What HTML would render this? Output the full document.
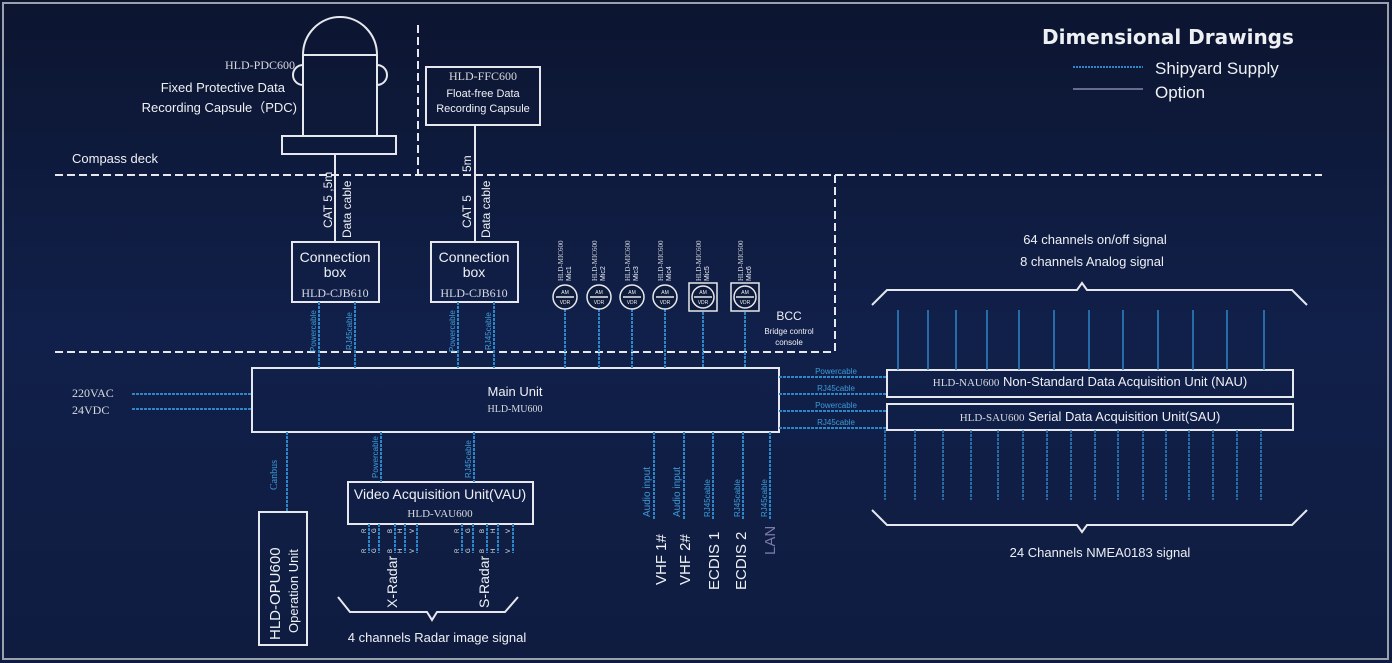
<!DOCTYPE html>
<html><head><meta charset="utf-8"><style>
html,body{margin:0;padding:0;background:#0f1b3b;}
svg{display:block}
text{font-family:"Liberation Sans",sans-serif;fill:#eef0f4}
.s{font-family:"Liberation Serif",serif;fill:#d8dae0}
.b{fill:#3b9ad8}
</style></head><body>
<svg width="1392" height="663" viewBox="0 0 1392 663" xmlns="http://www.w3.org/2000/svg">
<defs>
<linearGradient id="bg" x1="0" y1="0" x2="0" y2="1">
<stop offset="0" stop-color="#0c1530"/><stop offset="0.5" stop-color="#11204a"/><stop offset="1" stop-color="#0f1c40"/>
</linearGradient>
</defs>
<rect width="1392" height="663" fill="url(#bg)"/>
<rect x="3" y="3" width="1385" height="656" fill="none" stroke="#9aa0ac" stroke-width="2"/>

<!-- legend -->
<text x="1042" y="44" font-size="20" font-weight="bold" style="font-family:'DejaVu Sans',sans-serif">Dimensional Drawings</text>
<line x1="1073" y1="67" x2="1143" y2="67" stroke="#2c86c8" stroke-width="2" stroke-dasharray="2,1"/>
<line x1="1073" y1="89" x2="1143" y2="89" stroke="#6a6a90" stroke-width="2"/>
<text x="1155" y="74" font-size="17">Shipyard  Supply</text>
<text x="1155" y="98" font-size="17">Option</text>

<!-- dashed lines -->
<g stroke="#e6e8ee" stroke-width="2" stroke-dasharray="8,4" fill="none">
<line x1="55" y1="175" x2="1322" y2="175"/>
<line x1="418" y1="25" x2="418" y2="175"/>
<line x1="835" y1="175" x2="835" y2="352"/>
<line x1="55" y1="352" x2="835" y2="352"/>
</g>
<text x="72" y="163" font-size="13">Compass deck</text>

<!-- PDC -->
<g stroke="#e6e8ee" stroke-width="2" fill="none">
<path d="M303 55 L303 136 M377 55 L377 136 M303 55 A37 38 0 0 1 377 55 Z"/>
<path d="M303 65 A10 10 0 0 0 303 85 M377 65 A10 10 0 0 1 377 85"/>
<rect x="282" y="136" width="114" height="18"/>
<line x1="335" y1="154" x2="335" y2="242"/>
<rect x="426" y="67" width="114" height="58"/>
<line x1="475" y1="125" x2="475" y2="242"/>
<rect x="292" y="242" width="87" height="60"/>
<rect x="431" y="242" width="87" height="60"/>
<rect x="252" y="368" width="527" height="64"/>
<rect x="887" y="370" width="406" height="27"/>
<rect x="887" y="404" width="406" height="26"/>
<rect x="259" y="512" width="48" height="133"/>
<rect x="348" y="482" width="185" height="42"/>
</g>
<text class="s" x="225" y="69" font-size="12">HLD-PDC600</text>
<text x="285" y="92" font-size="13" text-anchor="end">Fixed Protective Data</text>
<text x="297" y="112" font-size="13" text-anchor="end">Recording Capsule（PDC)</text>
<text class="s" x="483" y="80" font-size="12" text-anchor="middle">HLD-FFC600</text>
<text x="483" y="97" font-size="11" text-anchor="middle">Float-free Data</text>
<text x="483" y="112" font-size="11" text-anchor="middle">Recording Capsule</text>

<text transform="translate(332,228) rotate(-90)" font-size="12">CAT 5 ,5m</text>
<text transform="translate(351,238) rotate(-90)" font-size="12">Data cable</text>
<text transform="translate(471,172) rotate(-90)" font-size="12">5m</text>
<text transform="translate(471,228) rotate(-90)" font-size="12">CAT 5</text>
<text transform="translate(490,238) rotate(-90)" font-size="12">Data cable</text>

<text x="335" y="262" font-size="14" text-anchor="middle">Connection</text>
<text x="335" y="277" font-size="14" text-anchor="middle">box</text>
<text class="s" x="335" y="297" font-size="12" text-anchor="middle">HLD-CJB610</text>
<text x="474" y="262" font-size="14" text-anchor="middle">Connection</text>
<text x="474" y="277" font-size="14" text-anchor="middle">box</text>
<text class="s" x="474" y="297" font-size="12" text-anchor="middle">HLD-CJB610</text>

<!-- blue connections -->
<g stroke="#2c86c8" stroke-width="2" stroke-dasharray="3,1">
<line x1="319" y1="302" x2="319" y2="368"/><line x1="355" y1="302" x2="355" y2="368"/>
<line x1="458" y1="302" x2="458" y2="368"/><line x1="494" y1="302" x2="494" y2="368"/>
<line x1="565" y1="309" x2="565" y2="368"/><line x1="599" y1="309" x2="599" y2="368"/>
<line x1="632" y1="309" x2="632" y2="368"/><line x1="665" y1="309" x2="665" y2="368"/>
<line x1="703" y1="312" x2="703" y2="368"/><line x1="745" y1="312" x2="745" y2="368"/>
<line x1="132" y1="394" x2="252" y2="394"/><line x1="132" y1="409" x2="252" y2="409"/>
<line x1="779" y1="377" x2="887" y2="377"/><line x1="779" y1="394" x2="887" y2="394"/>
<line x1="779" y1="411" x2="887" y2="411"/><line x1="779" y1="428" x2="887" y2="428"/>
<line x1="287" y1="432" x2="287" y2="512"/>
<line x1="381" y1="432" x2="381" y2="482"/><line x1="474" y1="432" x2="474" y2="482"/>
<line x1="654" y1="432" x2="654" y2="520"/><line x1="684" y1="432" x2="684" y2="520"/>
<line x1="713" y1="432" x2="713" y2="520"/><line x1="743" y1="432" x2="743" y2="520"/>
<line x1="770" y1="432" x2="770" y2="520"/>
<line x1="369" y1="524" x2="369" y2="553"/><line x1="379" y1="524" x2="379" y2="553"/><line x1="395" y1="524" x2="395" y2="553"/><line x1="405" y1="524" x2="405" y2="553"/><line x1="417" y1="524" x2="417" y2="553"/>
<line x1="462" y1="524" x2="462" y2="553"/><line x1="473" y1="524" x2="473" y2="553"/><line x1="487" y1="524" x2="487" y2="553"/><line x1="498" y1="524" x2="498" y2="553"/><line x1="513" y1="524" x2="513" y2="553"/>
</g>
<g stroke="#2c86c8" stroke-width="1.5">
<line x1="898" y1="310" x2="898" y2="370"/><line x1="928" y1="310" x2="928" y2="370"/><line x1="956" y1="310" x2="956" y2="370"/><line x1="987" y1="310" x2="987" y2="370"/><line x1="1019" y1="310" x2="1019" y2="370"/><line x1="1054" y1="310" x2="1054" y2="370"/><line x1="1089" y1="310" x2="1089" y2="370"/><line x1="1123" y1="310" x2="1123" y2="370"/><line x1="1158" y1="310" x2="1158" y2="370"/><line x1="1193" y1="310" x2="1193" y2="370"/><line x1="1227" y1="310" x2="1227" y2="370"/><line x1="1264" y1="310" x2="1264" y2="370"/>
</g>
<g stroke="#2c86c8" stroke-width="1.5" stroke-dasharray="3,1">
<line x1="885" y1="430" x2="885" y2="500"/><line x1="915" y1="430" x2="915" y2="500"/><line x1="943" y1="430" x2="943" y2="500"/><line x1="971" y1="430" x2="971" y2="500"/><line x1="998" y1="430" x2="998" y2="500"/><line x1="1023" y1="430" x2="1023" y2="500"/><line x1="1047" y1="430" x2="1047" y2="500"/><line x1="1071" y1="430" x2="1071" y2="500"/><line x1="1095" y1="430" x2="1095" y2="500"/><line x1="1118" y1="430" x2="1118" y2="500"/><line x1="1143" y1="430" x2="1143" y2="500"/><line x1="1166" y1="430" x2="1166" y2="500"/><line x1="1189" y1="430" x2="1189" y2="500"/><line x1="1213" y1="430" x2="1213" y2="500"/><line x1="1237" y1="430" x2="1237" y2="500"/><line x1="1261" y1="430" x2="1261" y2="500"/>
</g>

<g font-size="8" class="b">
<text class="b" transform="translate(316,352) rotate(-90)">Powercable</text>
<text class="b" transform="translate(352,350) rotate(-90)">RJ45cable</text>
<text class="b" transform="translate(455,352) rotate(-90)">Powercable</text>
<text class="b" transform="translate(491,350) rotate(-90)">RJ45cable</text>
<text class="b" x="836" y="374" text-anchor="middle">Powercable</text>
<text class="b" x="836" y="391" text-anchor="middle">RJ45cable</text>
<text class="b" x="836" y="408" text-anchor="middle">Powercable</text>
<text class="b" x="836" y="425" text-anchor="middle">RJ45cable</text>
<text class="b" transform="translate(378,478) rotate(-90)">Powercable</text>
<text class="b" transform="translate(471,478) rotate(-90)">RJ45cable</text>
<text class="b" transform="translate(650,517) rotate(-90)" font-size="10">Audio input</text>
<text class="b" transform="translate(680,517) rotate(-90)" font-size="10">Audio input</text>
<text class="b" transform="translate(710,517) rotate(-90)">RJ45cable</text>
<text class="b" transform="translate(740,517) rotate(-90)">RJ45cable</text>
<text class="b" transform="translate(767,517) rotate(-90)">RJ45cable</text>
<text class="b" transform="translate(277,490) rotate(-90)" font-size="10" style="font-family:'Liberation Serif',serif">Canbus</text>
</g>

<!-- mics -->
<g stroke="#e6e8ee" stroke-width="1.5" fill="#0f1b3b">
<circle cx="565" cy="297" r="12"/><circle cx="599" cy="297" r="12"/><circle cx="632" cy="297" r="12"/><circle cx="665" cy="297" r="12"/>
<rect x="689" y="283" width="28" height="28"/><rect x="731" y="283" width="28" height="28"/>
<circle cx="703" cy="297" r="11"/><circle cx="745" cy="297" r="11"/>
<path d="M556 297h18M590 297h18M623 297h18M656 297h18M694 297h18M736 297h18"/>
</g>
<g font-size="5" text-anchor="middle">
<text x="565" y="294">AM</text><text x="565" y="304">VDR</text>
<text x="599" y="294">AM</text><text x="599" y="304">VDR</text>
<text x="632" y="294">AM</text><text x="632" y="304">VDR</text>
<text x="665" y="294">AM</text><text x="665" y="304">VDR</text>
<text x="703" y="294">AM</text><text x="703" y="304">VDR</text>
<text x="745" y="294">AM</text><text x="745" y="304">VDR</text>
</g>
<g font-size="7">
<text transform="translate(563,281) rotate(-90)" class="s">HLD-MIC600</text><text transform="translate(571,281) rotate(-90)">Mic1</text>
<text transform="translate(597,281) rotate(-90)" class="s">HLD-MIC600</text><text transform="translate(605,281) rotate(-90)">Mic2</text>
<text transform="translate(630,281) rotate(-90)" class="s">HLD-MIC600</text><text transform="translate(638,281) rotate(-90)">Mic3</text>
<text transform="translate(663,281) rotate(-90)" class="s">HLD-MIC600</text><text transform="translate(671,281) rotate(-90)">Mic4</text>
<text transform="translate(701,281) rotate(-90)" class="s">HLD-MIC600</text><text transform="translate(709,281) rotate(-90)">Mic5</text>
<text transform="translate(743,281) rotate(-90)" class="s">HLD-MIC600</text><text transform="translate(751,281) rotate(-90)">Mic6</text>
</g>
<text x="789" y="320" font-size="12" text-anchor="middle">BCC</text>
<text x="789" y="334" font-size="8" text-anchor="middle">Bridge control</text>
<text x="789" y="345" font-size="8" text-anchor="middle">console</text>

<!-- main unit -->
<text x="515" y="396" font-size="13" text-anchor="middle">Main Unit</text>
<text class="s" x="515" y="412" font-size="10" text-anchor="middle">HLD-MU600</text>
<text class="s" x="72" y="397" font-size="12">220VAC</text>
<text class="s" x="72" y="414" font-size="12">24VDC</text>

<text x="1090" y="386" font-size="13" text-anchor="middle"><tspan class="s" font-size="11">HLD-NAU600</tspan>  Non-Standard Data Acquisition Unit (NAU)</text>
<text x="1090" y="421" font-size="13" text-anchor="middle"><tspan class="s" font-size="11">HLD-SAU600</tspan>   Serial Data Acquisition Unit(SAU)</text>

<g stroke="#e6e8ee" stroke-width="2" fill="none">
<polyline points="872,305 887,290 1077,290 1082,283 1087,290 1292,290 1307,305"/>
<polyline points="872,510 887,525 1077,525 1082,532 1087,525 1292,525 1307,510"/>
<polyline points="338,597 350,612 427,612 432,620 437,612 505,612 518,597"/>
</g>
<text x="1095" y="244" font-size="13" text-anchor="middle">64 channels on/off signal</text>
<text x="1092" y="266" font-size="13" text-anchor="middle">8 channels Analog signal</text>
<text x="1100" y="557" font-size="13" text-anchor="middle">24 Channels NMEA0183 signal</text>

<!-- VAU / OPU -->
<text x="440" y="499" font-size="14" text-anchor="middle">Video Acquisition Unit(VAU)</text>
<text class="s" x="440" y="517" font-size="11" text-anchor="middle">HLD-VAU600</text>
<g font-size="6" class="s">
<text transform="translate(366,533) rotate(-90)">R</text><text transform="translate(376,533) rotate(-90)">G</text><text transform="translate(392,533) rotate(-90)">B</text><text transform="translate(402,533) rotate(-90)">H</text><text transform="translate(414,533) rotate(-90)">V</text>
<text transform="translate(366,553) rotate(-90)">R</text><text transform="translate(376,553) rotate(-90)">G</text><text transform="translate(392,553) rotate(-90)">B</text><text transform="translate(402,553) rotate(-90)">H</text><text transform="translate(414,553) rotate(-90)">V</text>
<text transform="translate(459,533) rotate(-90)">R</text><text transform="translate(470,533) rotate(-90)">G</text><text transform="translate(484,533) rotate(-90)">B</text><text transform="translate(495,533) rotate(-90)">H</text><text transform="translate(510,533) rotate(-90)">V</text>
<text transform="translate(459,553) rotate(-90)">R</text><text transform="translate(470,553) rotate(-90)">G</text><text transform="translate(484,553) rotate(-90)">B</text><text transform="translate(495,553) rotate(-90)">H</text><text transform="translate(510,553) rotate(-90)">V</text>
</g>
<text transform="translate(397,608) rotate(-90)" font-size="14">X-Radar</text>
<text transform="translate(489,608) rotate(-90)" font-size="14">S-Radar</text>
<text x="437" y="642" font-size="13" text-anchor="middle">4 channels Radar image signal</text>
<text transform="translate(280,640) rotate(-90)" font-size="15">HLD-OPU600</text>
<text transform="translate(298,633) rotate(-90)" font-size="13">Operation Unit</text>

<g font-size="15">
<text transform="translate(666,585) rotate(-90)">VHF 1#</text>
<text transform="translate(690,585) rotate(-90)">VHF 2#</text>
<text transform="translate(719,590) rotate(-90)">ECDIS 1</text>
<text transform="translate(746,590) rotate(-90)">ECDIS 2</text>
<text transform="translate(775,555) rotate(-90)" style="fill:#7a7aa8">LAN</text>
</g>
</svg>
</body></html>
